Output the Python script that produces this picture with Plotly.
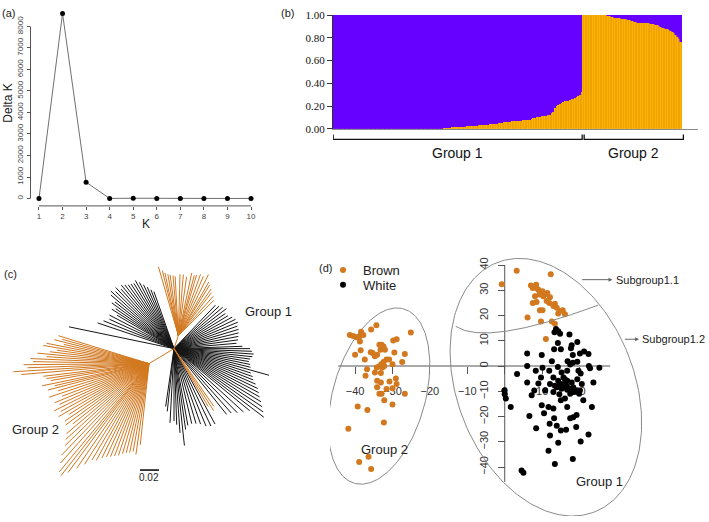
import numpy as np
import plotly.graph_objects as go

W, H = 709, 522

# ── (a) Evanno delta K ────────────────────────────────────────────────────────
K_VALUES = [1, 2, 3, 4, 5, 6, 7, 8, 9, 10]
DELTA_K = [0, 8608, 758, 3, 12, 2, 1, 2, 1, 3]

# ── (b) STRUCTURE membership (share of the orange cluster per individual) ─────
GROUP1_ORANGE = [0.0] * 66 + [
    0.005, 0.008, 0.010, 0.010, 0.010, 0.012, 0.012, 0.013, 0.014, 0.015,
    0.015, 0.017, 0.018, 0.019, 0.020, 0.021, 0.022, 0.024, 0.025, 0.026,
    0.028, 0.029, 0.030, 0.031, 0.032, 0.033, 0.035, 0.036, 0.038, 0.039,
    0.040, 0.042, 0.045, 0.048, 0.050, 0.053, 0.056, 0.058, 0.060, 0.061,
    0.062, 0.064, 0.065, 0.066, 0.068, 0.069, 0.070, 0.071, 0.073, 0.075,
    0.077, 0.079, 0.080, 0.085, 0.090, 0.095, 0.100, 0.102, 0.105, 0.108,
    0.110, 0.112, 0.115, 0.118, 0.120, 0.135, 0.150, 0.180, 0.200, 0.210,
    0.220, 0.230, 0.235, 0.240, 0.245, 0.248, 0.250, 0.260, 0.265, 0.270,
    0.280, 0.290, 0.300, 0.320,
]
GROUP2_ORANGE = [1.0] * 15 + [
    0.995, 0.990, 0.985, 0.980, 0.978, 0.975, 0.972, 0.970, 0.968, 0.966,
    0.965, 0.963, 0.958, 0.953, 0.948, 0.945, 0.940, 0.935, 0.932, 0.930,
    0.930, 0.930, 0.930, 0.929, 0.928, 0.927, 0.923, 0.920, 0.917, 0.915,
    0.910, 0.903, 0.897, 0.890, 0.885, 0.878, 0.873, 0.868, 0.862, 0.850,
    0.840, 0.825, 0.810, 0.790, 0.765,
]
GROUP_LABELS = ["Group 1", "Group 2"]

# ── (c) unrooted tree: (angle in degrees, branch length) ──────────────────────
HUB_ANGLE = [72.0, 211.5]       # top orange clade, Group 2 clade
HUB_LENGTH = [0.0148, 0.0309]
BLACK_ANGLE = [
    168, 161, 158, 155, 152, 149, 147, 145, 143, 141, 139, 137, 135, 133, 131,
    129, 127, 125, 123, 121, 119, 117, 115, 113, 111, 109,
    47, 44, 41, 38, 35, 32, 29, 26, 23, 20, 17, 14, 11, 8, 5, 2, 0, -2, -4,
    -6, -8, -10, -12, -14, -16, -18, -20, -22, -24, -26, -28, -30, -32, -34,
    -36, -38, -40, -43, -46, -49, -52, -62, -65, -68, -71, -74, -77, -80, -82,
    -84, -86, -88, -90, -93, -96, -98,
]
BLACK_LENGTH = [
    0.113, 0.085, 0.080, 0.075, 0.077, 0.070, 0.078, 0.075, 0.082, 0.080,
    0.088, 0.091, 0.087, 0.090, 0.085, 0.088, 0.086, 0.084, 0.083, 0.082,
    0.084, 0.080, 0.076, 0.072, 0.068, 0.065,
    0.064, 0.066, 0.068, 0.070, 0.066, 0.067, 0.070, 0.072, 0.073, 0.071,
    0.071, 0.070, 0.069, 0.068, 0.066, 0.072, 0.080, 0.082, 0.084, 0.083,
    0.081, 0.080, 0.082, 0.083, 0.104, 0.085, 0.088, 0.090, 0.094, 0.098,
    0.101, 0.104, 0.108, 0.112, 0.116, 0.120, 0.104, 0.100, 0.096, 0.092,
    0.090, 0.092, 0.092, 0.090, 0.086, 0.084, 0.083, 0.084, 0.088, 0.105,
    0.091, 0.082, 0.078, 0.080, 0.068, 0.063,
]
TOP_ANGLE = [105.8, 103.5, 101.8, 99.5, 97.6, 95.0, 93.0, 88.5, 85.4, 82.2,
             78.2, 75.5, 73.6, 70.5, 67.6, 64.3, 61.0, 58.8, 55.5, 52.9, 49.0, 45.5]
TOP_LENGTH = [0.077, 0.072, 0.069, 0.067, 0.066, 0.065, 0.064, 0.066, 0.066, 0.064,
              0.069, 0.067, 0.068, 0.070, 0.069, 0.073, 0.066, 0.064, 0.061, 0.058, 0.056, 0.053]
MID_ANGLE = [-56.0, -58.0, -60.0]
MID_LENGTH = [0.075, 0.079, 0.072]
G2_ANGLE = [
    162.5, 164, 165.5, 167, 168.5, 170, 171.5, 173, 174.5, 176, 177.5, 179,
    180.5, 182, 183.5, 185, 187, 188.5, 190, 192, 193.5, 195, 197, 199, 201,
    203, 205, 207, 209, 211, 213, 215, 217, 219, 221, 223, 225, 227, 229, 231,
    232.5, 234, 236, 238, 240, 242, 244, 246, 248, 250, 252, 254, 256, 258,
    260, 262, 264,
]
G2_LENGTH = [
    0.100, 0.095, 0.103, 0.092, 0.110, 0.113, 0.098, 0.105, 0.118, 0.108,
    0.125, 0.122, 0.132, 0.128, 0.143, 0.135, 0.112, 0.109, 0.105, 0.115,
    0.102, 0.110, 0.100, 0.111, 0.098, 0.108, 0.104, 0.112, 0.106, 0.111,
    0.100, 0.108, 0.110, 0.103, 0.115, 0.120, 0.125, 0.135, 0.142, 0.150,
    0.152, 0.145, 0.136, 0.128, 0.120, 0.118, 0.113, 0.110, 0.108, 0.106,
    0.104, 0.101, 0.099, 0.098, 0.096, 0.099, 0.088,
]
SCALE_BAR = 0.02

# ── (d) PCA ───────────────────────────────────────────────────────────────────
G2_PC1 = [
    -41.4, -40.5, -39.6, -38.9, -38.4, -37.8, -35.7, -34.3, -25.1, -38.7,
    -40.0, -38.5, -37.4, -35.8, -35.3, -34.7, -34.1, -33.5, -32.9, -32.4,
    -33.2, -32.0, -29.8, -28.9, -29.5, -26.7, -27.4, -31.6, -30.9, -32.4,
    -33.0, -33.6, -34.2, -32.7, -32.2, -30.0, -36.8, -34.7, -33.1, -37.2,
    -34.1, -30.8, -29.1, -28.9, -33.1, -34.1, -33.5, -32.9, -31.6, -26.7,
    -30.0, -32.2, -30.0, -39.3, -36.7, -32.3, -41.8, -36.4, -38.9, -35.7,
]
G2_PC2 = [
    12.3, 11.9, 11.4, 11.6, 13.6, 12.3, 14.5, 16.1, 13.3, 9.7,
    4.5, 6.2, 2.6, 5.5, 5.2, 3.9, 4.5, 8.4, 8.4, 7.7,
    6.4, 6.4, 10.1, 10.6, 5.4, 4.8, 1.6, 2.6, 2.6, 1.6,
    0.7, -0.2, -0.6, -0.6, 0.0, 0.7, -1.3, -2.6, -2.8, -3.9,
    -5.8, -6.1, -4.9, -7.1, -6.5, -8.4, -11.0, -11.0, -9.1, -11.0,
    -8.8, -13.6, -15.2, -16.0, -17.4, -22.4, -24.8, -35.9, -38.0, -40.8,
]
SUB11_PC1 = [
    -0.8, 3.2, 12.3, 7.0, 7.5, 8.4, 9.0, 9.4, 10.1, 10.8, 10.3, 11.4,
    12.1, 8.1, 7.5, 8.5, 9.4, 10.1, 11.2, 11.9, 13.0, 13.4, 13.9, 14.8,
    15.5, 16.1, 14.3, 6.1, 9.7, 12.6, 13.4, 11.0, 8.5, 9.3,
]
SUB11_PC2 = [
    32.4, 37.7, 36.3, 31.9, 30.9, 32.2, 30.2, 28.9, 29.6, 28.3, 27.6, 28.9,
    27.2, 27.6, 25.0, 25.4, 22.1, 22.1, 25.7, 25.0, 23.8, 24.7, 23.1, 21.8,
    22.1, 20.5, 20.8, 19.2, 17.6, 17.6, 16.7, 10.7, 30.9, 28.3,
]
WHITE_PC1 = [
    13.7, 14.3, 13.3, 14.8, 17.3, 14.2, 17.9, 19.4, 13.2, 15.0, 17.7, 6.0,
    9.9, 18.2, 20.1, 21.2, 22.4, 12.6, 16.8, 18.2, 19.4, 17.5, 22.5, 22.8,
    6.0, 10.1, 14.2, 25.3, 3.3, 8.3, 11.9, 9.7, 15.2, 16.7, 19.7, 20.3,
    13.0, 16.1, 16.7, 15.7, 17.9, 6.0, 19.4, 23.7, -0.1, 16.4, 15.2, 16.7,
    18.3, 18.3, 19.1, 20.1, 7.9, 10.8, 13.0, 13.9, 14.6, 17.5, 16.1, 21.0,
    0.3, 1.6, 7.2, 15.0, 9.9, 11.7, 13.0, 16.7, 23.3, 10.5, 6.6, 13.2,
    17.5, 18.3, 19.2, 12.0, 13.9, 15.0, 16.4, 19.1, 8.4, 22.4, 12.1, 20.3,
    14.3, 11.7, 18.2, 13.4, 4.5, 5.0, 14.3, 15.7, 16.6, 17.5, 14.8, 12.1,
    13.4, 9.0, 19.9, 20.6, 0.0,
]
WHITE_PC2 = [
    14.7, 13.8, 13.4, 12.8, 12.5, 9.1, 8.2, 9.5, 6.6, 6.6, 7.0, 5.0,
    4.4, 4.4, 5.0, 5.7, 4.8, 1.9, 1.9, 1.3, 1.7, 0.6, 0.0, -0.9,
    0.0, -0.7, -0.4, -0.7, -3.2, -1.9, -1.9, -4.5, -2.6, -1.9, -1.9, -3.0,
    -4.5, -5.2, -5.8, -7.1, -6.5, -6.5, -5.2, -6.5, -9.7, -8.4, -9.0, -9.4,
    -8.4, -10.3, -9.9, -9.7, -9.7, -9.7, -10.3, -8.4, -11.2, -11.0, -12.9, -13.6,
    -12.9, -16.2, -11.6, -13.6, -15.5, -16.2, -16.8, -16.2, -16.2, -18.7, -19.8, -20.7,
    -20.7, -20.3, -19.4, -22.9, -23.7, -25.5, -25.2, -24.2, -24.6, -27.1, -27.5, -29.9,
    -30.4, -33.6, -36.8, -38.8, -41.4, -42.3, -5.8, -4.5, -7.8, -9.0, -7.1, -7.1,
    -7.8, -6.9, -11.0, -7.1, -11.2,
]
# ellipses: centre, half-width, half-height, shear of the top
ELLIPSE_CX = [-33.6, 11.0]
ELLIPSE_CY = [-11.9, -8.4]
ELLIPSE_RX = [12.7, 24.6]
ELLIPSE_RY = [34.9, 51.0]
ELLIPSE_SX = [4.8, -7.1]

ORANGE = "#D2781F"
BAR_ORANGE = "#FDB100"
BAR_PURPLE = "#6600FF"
FONT = "Liberation Sans, Arial, sans-serif"


def fx(px):
    return px / W


def fy(py):
    return 1 - py / H


def rays(hx, hy, angles, lengths):
    xs, ys = [], []
    for a, l in zip(angles, lengths):
        r = np.radians(a)
        xs += [hx, hx + l * np.cos(r), None]
        ys += [hy, hy + l * np.sin(r), None]
    return xs, ys


fig = go.Figure()

# (a)
fig.add_trace(go.Scatter(
    x=K_VALUES, y=DELTA_K, mode="lines+markers",
    line={"color": "#707070", "width": 1},
    marker={"color": "black", "size": 5},
    xaxis="x", yaxis="y", showlegend=False, cliponaxis=False,
))

# (b)
orange = GROUP1_ORANGE + GROUP2_ORANGE
purple = [1 - v for v in orange]
idx = list(range(len(orange)))
fig.add_trace(go.Bar(
    x=idx, y=orange, marker={"color": BAR_ORANGE, "line": {"color": "#E59C00", "width": 0.4}},
    xaxis="x2", yaxis="y2", showlegend=False,
))
fig.add_trace(go.Bar(
    x=idx, y=purple, marker={"color": BAR_PURPLE, "line": {"color": BAR_PURPLE, "width": 0.5}},
    xaxis="x2", yaxis="y2", showlegend=False,
))
n1 = len(GROUP1_ORANGE)
spans = [(-0.4, n1 - 0.6), (n1 + 0.6, len(orange) + 0.3)]

# (c)
hubs = [(HUB_LENGTH[i] * np.cos(np.radians(HUB_ANGLE[i])),
         HUB_LENGTH[i] * np.sin(np.radians(HUB_ANGLE[i]))) for i in range(2)]
bx, by = rays(0, 0, BLACK_ANGLE, BLACK_LENGTH)
fig.add_trace(go.Scatter(x=bx, y=by, mode="lines", line={"color": "#151515", "width": 1},
                         xaxis="x3", yaxis="y3", showlegend=False, hoverinfo="skip"))
ox, oy = rays(0, 0, HUB_ANGLE, HUB_LENGTH)
for (hx, hy), ang, ln in [(hubs[0], TOP_ANGLE, TOP_LENGTH), (hubs[1], G2_ANGLE, G2_LENGTH),
                          ((0, 0), MID_ANGLE, MID_LENGTH)]:
    px_, py_ = rays(hx, hy, ang, ln)
    ox += px_
    oy += py_
fig.add_trace(go.Scatter(x=ox, y=oy, mode="lines", line={"color": ORANGE, "width": 1},
                         xaxis="x3", yaxis="y3", showlegend=False, hoverinfo="skip"))
sb_x0 = -0.0358
fig.add_trace(go.Scatter(x=[sb_x0, sb_x0 + SCALE_BAR], y=[-0.1308, -0.1308], mode="lines",
                         line={"color": "black", "width": 1.5},
                         xaxis="x3", yaxis="y3", showlegend=False))

# (d)
t = np.linspace(0, 2 * np.pi, 240)
for cx, cy, rx, ry, sx in zip(ELLIPSE_CX, ELLIPSE_CY, ELLIPSE_RX, ELLIPSE_RY, ELLIPSE_SX):
    fig.add_trace(go.Scatter(
        x=cx + rx * np.cos(t) + sx * np.sin(t), y=cy + ry * np.sin(t), mode="lines",
        line={"color": "#8a8a8a", "width": 1}, xaxis="x4", yaxis="y4",
        showlegend=False, hoverinfo="skip", cliponaxis=False,
    ))
fig.add_trace(go.Scatter(x=G2_PC1, y=G2_PC2, mode="markers", name="Brown", legendgroup="b",
                         marker={"color": ORANGE, "size": 6}, xaxis="x4", yaxis="y4"))
fig.add_trace(go.Scatter(x=SUB11_PC1, y=SUB11_PC2, mode="markers", name="Brown", legendgroup="b",
                         showlegend=False, marker={"color": ORANGE, "size": 6}, xaxis="x4", yaxis="y4"))
fig.add_trace(go.Scatter(x=WHITE_PC1, y=WHITE_PC2, mode="markers", name="White", legend="legend2",
                         marker={"color": "black", "size": 6}, xaxis="x4", yaxis="y4"))

d_xr = [-46.7, 54.6]
d_yr = [-59.4, 42.75]
d_dom_x = [fx(330), 1.0]
d_dom_y = [0.0, fy(258)]
x_zero_pos = d_dom_x[0] + (0 - d_xr[0]) / (d_xr[1] - d_xr[0]) * (d_dom_x[1] - d_dom_x[0])
y_zero_pos = d_dom_y[0] + (0 - d_yr[0]) / (d_yr[1] - d_yr[0]) * (d_dom_y[1] - d_dom_y[0])

tick_font = {"family": FONT, "size": 8, "color": "#444"}
d_font = {"family": FONT, "size": 11, "color": "#333"}
legend_style = {"xanchor": "left", "yanchor": "top", "bgcolor": "rgba(0,0,0,0)",
                "font": {"family": FONT, "size": 13, "color": "#222"}, "itemwidth": 30}

fig.update_layout(
    width=W, height=H,
    margin={"l": 0, "r": 0, "t": 0, "b": 0},
    paper_bgcolor="white", plot_bgcolor="rgba(0,0,0,0)",
    font={"family": FONT, "color": "#222"},
    barmode="stack", bargap=0,
    showlegend=True,
    legend={"x": fx(323), "y": fy(255), **legend_style},
    legend2={"x": fx(323), "y": fy(270), **legend_style},
    xaxis={"domain": [fx(30.5), fx(259.5)], "range": [0.64, 10.36], "anchor": "y",
           "tickvals": K_VALUES, "ticks": "outside", "ticklen": 3, "tickcolor": "#555",
           "tickfont": tick_font, "showgrid": False, "zeroline": False, "showline": False},
    yaxis={"domain": [fy(204.6), 1.0], "range": [-344, 8952], "anchor": "x",
           "tickvals": list(range(0, 8001, 1000)), "tickangle": -90, "ticks": "outside",
           "ticklen": 3, "tickcolor": "#555", "tickfont": tick_font,
           "showgrid": False, "zeroline": False, "showline": False},
    xaxis2={"domain": [fx(333), fx(698)], "range": [-0.5, 219.1], "anchor": "y2",
            "showticklabels": False, "ticks": "", "showgrid": False, "zeroline": False,
            "showline": True, "linecolor": "#8a8a8a", "linewidth": 1},
    yaxis2={"domain": [fy(125.7), fy(9.3)], "range": [0, 1], "anchor": "x2",
            "tickvals": [0, 0.2, 0.4, 0.6, 0.8, 1.0], "tickformat": ".2f",
            "ticks": "outside", "ticklen": 5, "tickcolor": "#333",
            "tickfont": {"family": "Liberation Serif, Times New Roman, serif", "size": 11, "color": "#111"},
            "showgrid": False, "zeroline": False, "showline": True, "linecolor": "#333", "linewidth": 1},
    xaxis3={"domain": [0, fx(330)], "range": [-174 / 950, 156 / 950], "anchor": "y3", "visible": False},
    yaxis3={"domain": [0, fy(260)], "range": [-(522 - 350.7) / 950, (350.7 - 260) / 950],
            "anchor": "x3", "visible": False},
    xaxis4={"domain": d_dom_x, "range": d_xr, "anchor": "free", "position": y_zero_pos,
            "tickvals": [-40, -30, -20, -10, 0, 10, 20], "ticks": "outside", "ticklen": 7,
            "tickcolor": "#555", "tickfont": d_font, "ticklabelstandoff": 8,
            "layer": "below traces", "showgrid": False, "zeroline": False, "showline": False},
    yaxis4={"domain": d_dom_y, "range": d_yr, "anchor": "free", "position": x_zero_pos,
            "tickvals": [-40, -30, -20, -10, 0, 10, 20, 30, 40], "tickangle": -90,
            "ticks": "outside", "ticklen": 7, "tickcolor": "#555", "tickfont": d_font,
            "ticklabelstandoff": 5, "layer": "below traces",
            "showgrid": False, "zeroline": False, "showline": False},
)

shapes = [
    # R-style axis lines for (a)
    {"type": "line", "xref": "x", "yref": "y domain", "x0": 1, "x1": 10, "y0": 0, "y1": 0,
     "line": {"color": "#555", "width": 1}},
    {"type": "line", "xref": "x domain", "yref": "y", "x0": 0, "x1": 0, "y0": 0, "y1": 8000,
     "line": {"color": "#555", "width": 1}},
    # axes through the origin for (d)
    {"type": "line", "xref": "x4", "yref": "y4", "x0": -44.5, "x1": 28.2, "y0": 0, "y1": 0,
     "line": {"color": "#555", "width": 1}, "layer": "below"},
    {"type": "line", "xref": "x4", "yref": "y4", "x0": 0, "x1": 0, "y0": 40, "y1": -45.9,
     "line": {"color": "#555", "width": 1}, "layer": "below"},
    # boundary between Subgroup1.1 and Subgroup1.2
    {"type": "path", "xref": "x4", "yref": "y4", "path": "M -13.1,15.7 Q -4.95,7.7 25.0,24.1",
     "line": {"color": "#8a8a8a", "width": 1}},
]
for x0, x1 in spans:
    shapes.append({"type": "path", "xref": "x2", "yref": "paper",
                   "path": f"M {x0},{fy(131.5)} L {x0},{fy(136.5)} L {x1},{fy(136.5)} L {x1},{fy(131.5)}",
                   "line": {"color": "#111", "width": 1.3}})
fig.update_layout(shapes=shapes)

ann = []


def label(text, x, y, size=11, xanchor="left", **kw):
    ann.append({"text": text, "x": fx(x), "y": fy(y), "xref": "paper", "yref": "paper",
                "xanchor": xanchor, "yanchor": "middle", "showarrow": False,
                "font": {"family": FONT, "size": size, "color": "#222"}, **kw})


label("(a)", 0, 7.5)
label("(b)", 279, 7.5)
label("(c)", 2, 274)
label("(d)", 317, 268)
label("Delta K", 8, 100, size=12, xanchor="center", textangle=-90)
label("K", 146, 223, size=12, xanchor="center")
label("Group 1", 243, 313, size=13)
label("Group 2", 10, 433, size=13)
label("Group 2", 359, 454, size=13)
label("Group 1", 574, 487, size=13)
label("Subgroup1.1", 614, 280, size=11)
label("Subgroup1.2", 640, 341, size=11)
for (x0, x1), name in zip(spans, GROUP_LABELS):
    ann.append({"text": name, "x": (x0 + x1) / 2, "y": fy(150), "xref": "x2", "yref": "paper",
                "showarrow": False, "yanchor": "middle",
                "font": {"family": FONT, "size": 14, "color": "#111"}})
ann.append({"text": "0.02", "x": sb_x0 + SCALE_BAR / 2, "y": -0.1393, "xref": "x3", "yref": "y3",
            "showarrow": False, "yanchor": "middle", "font": {"family": FONT, "size": 10, "color": "#222"}})
for x_head, x_tail, y_a in [(28.8, 20.3, 34.2), (35.9, 31.7, 10.6)]:
    ann.append({"text": "", "x": x_head, "y": y_a, "ax": x_tail, "ay": y_a,
                "xref": "x4", "yref": "y4", "axref": "x4", "ayref": "y4",
                "showarrow": True, "arrowhead": 2, "arrowsize": 0.8, "arrowwidth": 1,
                "arrowcolor": "#666"})
fig.update_layout(annotations=ann)

# the page's default 8px body margin would push the figure off its 709x522 frame
fig.write_html("out.html", config={"displayModeBar": False},
               post_script="document.body.style.margin='0';")
